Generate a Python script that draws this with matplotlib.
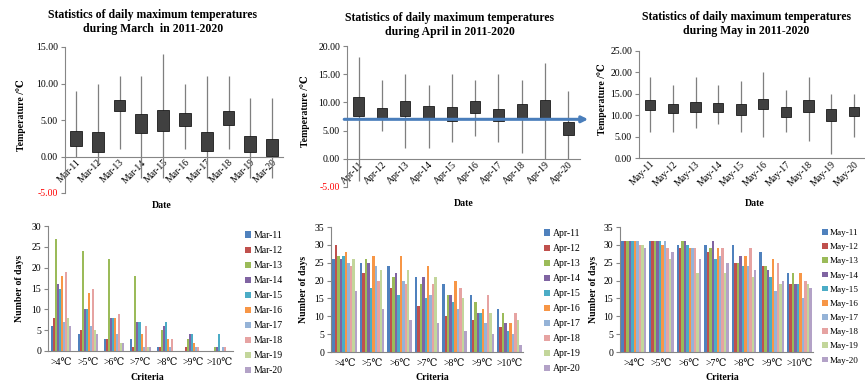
import matplotlib
matplotlib.use("Agg")
import matplotlib.pyplot as plt
import numpy as np

plt.rcParams['font.family'] = ['Liberation Serif', 'DejaVu Serif', 'DejaVu Sans', 'Noto Sans CJK SC']
plt.rcParams['axes.unicode_minus'] = False

# ---------------- data ----------------
mar_dates = ["Mar-11", "Mar-12", "Mar-13", "Mar-14", "Mar-15", "Mar-16", "Mar-17", "Mar-18", "Mar-19", "Mar-20"]
mar_high = [9, 10, 11, 11, 14, 10, 11, 11, 8, 8]
mar_low = [0, -1, 1, -3, -3, 1, -3, 1, -3, -3]
mar_box_top = [3.5, 3.3, 7.8, 5.85, 6.4, 5.95, 3.3, 6.2, 2.8, 2.4]
mar_box_bot = [1.4, 0.6, 6.2, 3.25, 3.5, 4.15, 0.7, 4.35, 0.55, 0.05]

apr_dates = ["Apr-11", "Apr-12", "Apr-13", "Apr-14", "Apr-15", "Apr-16", "Apr-17", "Apr-18", "Apr-19", "Apr-20"]
apr_high = [18, 14, 15, 13, 15, 14, 15, 14, 17, 12]
apr_low = [-4, 5, 2, 2, 3, 4, 3, 1, 0, 0]
apr_box_top = [10.9, 9.0, 10.2, 9.35, 9.2, 10.2, 8.8, 9.8, 10.5, 6.5]
apr_box_bot = [7.65, 7.0, 7.65, 7.2, 6.65, 8.2, 6.65, 7.1, 7.2, 4.2]
apr_reference = 7.0

may_dates = ["May-11", "May-12", "May-13", "May-14", "May-15", "May-16", "May-17", "May-18", "May-19", "May-20"]
may_high = [19, 17, 19, 17, 18, 20, 16, 19, 15, 15]
may_low = [6, 6, 7, 8, 6, 5, 6, 4, 1, 5]
may_box_top = [13.6, 12.6, 13.2, 12.75, 12.5, 13.9, 11.8, 13.5, 11.4, 11.9]
may_box_bot = [11.1, 10.5, 10.8, 10.8, 10.0, 11.4, 9.65, 10.8, 8.6, 9.7]

criteria = [">4℃", ">5℃", ">6℃", ">7℃", ">8℃", ">9℃", ">10℃"]

# rows: years (series), columns: criteria
mar_days = [
    [6, 4, 3, 3, 1, 0, 0],
    [8, 5, 3, 1, 1, 1, 0],
    [27, 24, 22, 18, 5, 3, 1],
    [16, 10, 8, 7, 6, 4, 1],
    [15, 10, 8, 7, 7, 4, 4],
    [18, 14, 8, 4, 3, 2, 0],
    [7, 6, 4, 1, 1, 1, 1],
    [19, 15, 9, 6, 3, 1, 1],
    [8, 5, 2, 1, 0, 0, 0],
    [6, 4, 2, 1, 0, 0, 0],
]
apr_days = [
    [26, 25, 24, 21, 19, 16, 12],
    [30, 22, 18, 13, 10, 9, 7],
    [27, 26, 21, 19, 16, 14, 11],
    [26, 25, 22, 21, 16, 11, 8],
    [27, 18, 16, 15, 14, 11, 6],
    [28, 27, 27, 24, 20, 12, 8],
    [25, 24, 20, 16, 12, 8, 5],
    [24, 20, 19, 19, 18, 16, 11],
    [26, 23, 23, 21, 15, 11, 9],
    [17, 12, 9, 8, 6, 5, 2],
]
may_days = [
    [31, 31, 30, 30, 30, 28, 22],
    [31, 31, 29, 28, 25, 24, 19],
    [31, 31, 31, 29, 25, 24, 22],
    [31, 31, 31, 31, 27, 23, 19],
    [31, 31, 30, 26, 24, 21, 19],
    [31, 30, 29, 29, 27, 26, 22],
    [31, 31, 29, 27, 24, 17, 15],
    [30, 29, 29, 29, 29, 25, 20],
    [30, 26, 22, 22, 21, 19, 19],
    [29, 28, 26, 25, 23, 20, 18],
]

series_colors = ["#4F81BD", "#C0504D", "#9BBB59", "#8064A2", "#4BACC6",
                 "#F79646", "#95B3D7", "#E6A3A2", "#C3D69B", "#B3A2C7"]

W, H = 865, 386
fig = plt.figure(figsize=(W / 100, H / 100), dpi=100)
fig.patch.set_facecolor("white")

AX_GREY = "#868686"
FS = 7


def px_axes(x0, y0, x1, y1):
    return fig.add_axes([x0 / W, 1 - y1 / H, (x1 - x0) / W, (y1 - y0) / H])


def style_axes(ax):
    for s in ["top", "right"]:
        ax.spines[s].set_visible(False)
    for s in ["left", "bottom"]:
        ax.spines[s].set_color(AX_GREY)
        ax.spines[s].set_linewidth(0.8)
    ax.tick_params(axis="y", length=3, width=0.8, color=AX_GREY, labelsize=FS, pad=2)
    ax.tick_params(axis="x", length=0, labelsize=FS, pad=2)


def stock_panel(box, dates, low, high, btop, bbot, ylim, ystep, title, red_neg, width, title_xy, ylabel_x, date_xy):
    ax = px_axes(*box)
    style_axes(ax)
    x = np.arange(len(dates))
    ax.vlines(x, low, high, color="#7F7F7F", lw=0.9, zorder=2)
    ax.bar(x, np.array(btop) - np.array(bbot), bottom=bbot, width=width,
           color="#404040", edgecolor="#1a1a1a", lw=0.6, zorder=3)
    ax.set_xlim(-0.5, len(dates) - 0.5)
    ax.set_ylim(*ylim)
    ticks = np.arange(ylim[0], ylim[1] + 0.01, ystep)
    ax.set_yticks(ticks)
    ax.set_yticklabels([f"{t:.2f}" for t in ticks])
    if red_neg:
        for lab, t in zip(ax.get_yticklabels(), ticks):
            if t < 0:
                lab.set_color("#FF0000")
        ax.spines["bottom"].set_position(("data", 0))
    ax.set_xticks(x)
    ax.set_xticklabels(dates, rotation=45, ha="right", rotation_mode="anchor")
    ax.tick_params(axis="x", pad=1)
    fig.text(title_xy[0] / W, 1 - title_xy[1] / H, title, ha="center", va="center",
             fontsize=8.5, fontweight="bold", linespacing=1.15)
    fig.text(ylabel_x / W, 1 - ((box[1] + box[3]) / 2 - 5) / H, "Temperature /℃", rotation=90,
             ha="center", va="center", fontsize=FS, fontweight="bold")
    fig.text(date_xy[0] / W, 1 - date_xy[1] / H, "Date", ha="center", va="center",
             fontsize=FS, fontweight="bold")
    return ax


ax1 = stock_panel((65, 47, 283, 193), mar_dates, mar_low, mar_high, mar_box_top, mar_box_bot,
                  (-5, 15), 5, "Statistics of daily maximum temperatures\nduring March  in 2011-2020",
                  True, 0.55, (153, 22), 21, (162, 205))
ax2 = stock_panel((347, 46, 580, 187), apr_dates, apr_low, apr_high, apr_box_top, apr_box_bot,
                  (-5, 20), 5, "Statistics of daily maximum temperatures\nduring April in 2011-2020",
                  True, 0.45, (450, 25), 305, (464, 204))
ax3 = stock_panel((639, 51, 865, 158), may_dates, may_low, may_high, may_box_top, may_box_bot,
                  (0, 25), 5, "Statistics of daily maximum temperatures\nduring May in 2011-2020",
                  False, 0.45, (746, 24), 602, (755, 204))

# reference arrow in April panel
ax2.annotate("", xy=(9.85, apr_reference), xytext=(-0.62, apr_reference),
             xycoords="data", textcoords="data",
             arrowprops=dict(arrowstyle="-|>", color="#4A7EBB", lw=2.2,
                             mutation_scale=9, shrinkA=0, shrinkB=0),
             annotation_clip=False, zorder=5)


def bar_panel(box, days, labels, ymax, group_w, legend_xy, ylabel_x, crit_xy, leg_fs=FS):
    ax = px_axes(*box)
    style_axes(ax)
    n = len(days)
    x = np.arange(len(criteria))
    bw = group_w / n
    handles = []
    for i, row in enumerate(days):
        h = ax.bar(x - group_w / 2 + bw * (i + 0.5), row, width=bw, color=series_colors[i],
                   edgecolor="none", zorder=2)
        handles.append(h)
    ax.set_xlim(-0.5, len(criteria) - 0.5)
    ax.set_ylim(0, ymax)
    ax.set_yticks(np.arange(0, ymax + 1, 5))
    ax.set_xticks(x)
    ax.set_xticklabels(criteria)
    ax.tick_params(axis="x", pad=5)
    ax.legend(handles, labels, loc="upper left",
              bbox_to_anchor=(legend_xy[0] / W, 1 - legend_xy[1] / H),
              bbox_transform=fig.transFigure, frameon=False, fontsize=leg_fs,
              handlelength=0.6, handleheight=0.6, handletextpad=0.3,
              labelspacing=0.62 * FS / leg_fs, borderpad=0, borderaxespad=0)
    fig.text(ylabel_x / W, 1 - ((box[1] + box[3]) / 2) / H, "Number of days", rotation=90,
             ha="center", va="center", fontsize=FS, fontweight="bold")
    fig.text(crit_xy[0] / W, 1 - crit_xy[1] / H, "Criteria", ha="center", va="center",
             fontsize=FS, fontweight="bold")
    return ax


bar_panel((48, 226, 233, 351), mar_days, mar_dates, 30, 0.76, (245, 231), 20, (147, 377))
bar_panel((331, 227, 523, 352), apr_days, apr_dates, 35, 0.9, (544, 229), 304, (432, 377))
bar_panel((620, 227, 813, 352), may_days, may_dates, 35, 0.9, (822, 229), 593, (722, 377), leg_fs=6.6)

fig.savefig("out.png", dpi=100, facecolor="white")
